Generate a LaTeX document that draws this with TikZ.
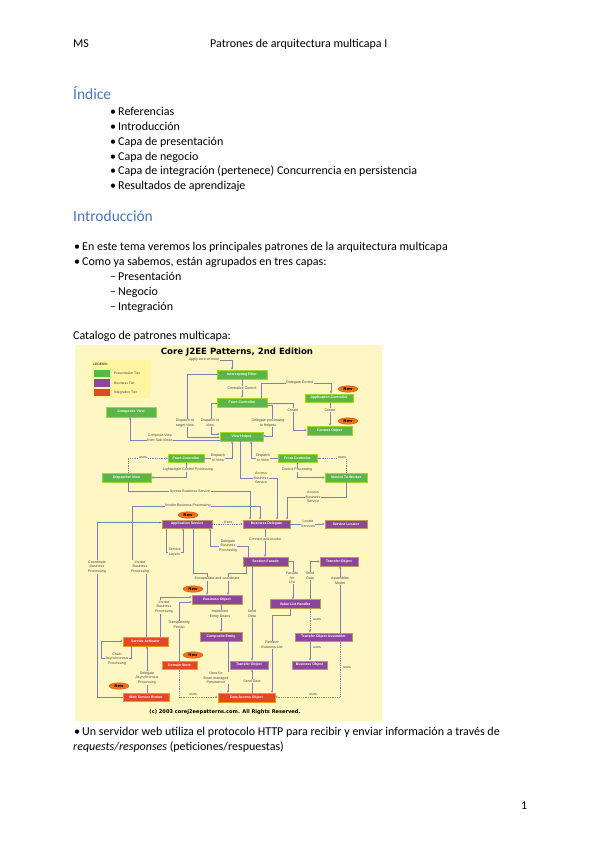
\documentclass[tikz,border=0pt]{standalone}
\usepackage{fontspec}
\setmainfont{Carlito}
\newfontfamily\dsans{Liberation Sans}
\newfontfamily\dheavy{DejaVu Sans}
\usetikzlibrary{arrows.meta,shapes.geometric}
\definecolor{headblue}{RGB}{72,118,196}
\definecolor{imgbg}{RGB}{254,247,196}
\definecolor{legbg}{RGB}{255,244,160}
\definecolor{pgreen}{RGB}{90,182,70}
\definecolor{ppurple}{RGB}{140,70,156}
\definecolor{pred}{RGB}{226,72,40}
\definecolor{lncol}{RGB}{122,130,190}
\definecolor{lbltxt}{RGB}{70,70,70}
\definecolor{neworange}{RGB}{246,112,20}
\begin{document}
\begin{tikzpicture}[x=1pt,y=-1pt,
  doc/.style={anchor=base west, inner sep=0pt, font=\fontsize{12}{14}\selectfont},
  h1/.style={anchor=base west, inner sep=0pt, text=headblue, font=\fontsize{15.5}{17}\selectfont},
  tbox/.style={minimum height=9pt, inner sep=0pt, text=white, font=\dsans\bfseries\fontsize{3.5}{4}\selectfont, line width=0.5pt},
  gbox/.style={tbox, fill=pgreen, draw=pgreen!55!yellow},
  pbox/.style={tbox, fill=ppurple, draw=ppurple!55!yellow},
  rbox/.style={tbox, fill=pred, draw=pred!55!yellow},
  lbl/.style={font=\dsans\fontsize{3.6}{4.7}\selectfont, text=lbltxt, fill=imgbg, inner sep=0.4pt, align=center},
  conn/.style={draw=lncol, line width=0.7pt, -{Stealth[length=2.4pt,width=2.2pt]}},
  dconn/.style={conn, dash pattern=on 0.9pt off 0.9pt},
  newb/.style={ellipse, fill=neworange, draw=neworange!75!black, line width=0.3pt, minimum width=20pt, minimum height=6.5pt, inner sep=0pt, font=\dheavy\bfseries\fontsize{3.8}{4}\selectfont, text=black}
]
\useasboundingbox (0,0) rectangle (599,848);
\fill[white] (0,0) rectangle (599,848);

% ---------- document text ----------
\node[doc] (ms) at (73,48) {MS};
\node[doc] (hdr) at (210,48) {Patrones de arquitectura multicapa I};
\node[h1] (indice) at (73,100) {Índice};
\node[doc] (i1) at (110,116) {\makebox[8pt][l]{•}Referencias};
\node[doc] (i2) at (110,130.7) {\makebox[8pt][l]{•}Introducción};
\node[doc] (i3) at (110,145.4) {\makebox[8pt][l]{•}Capa de presentación};
\node[doc] (i4) at (110,160.1) {\makebox[8pt][l]{•}Capa de negocio};
\node[doc] (i5) at (110,174.8) {\makebox[8pt][l]{•}Capa de integración (pertenece) Concurrencia en persistencia};
\node[doc] (i6) at (110,189.5) {\makebox[8pt][l]{•}Resultados de aprendizaje};
\node[h1] (intro) at (73,221) {Introducción};
\node[doc] (p1) at (74,250) {\makebox[8pt][l]{•}En este tema veremos los principales patrones de la arquitectura multicapa};
\node[doc] (p2) at (74,265) {\makebox[8pt][l]{•}Como ya sabemos, están agrupados en tres capas:};
\node[doc] (d1) at (110,280) {\makebox[8pt][l]{–}Presentación};
\node[doc] (d2) at (110,295) {\makebox[8pt][l]{–}Negocio};
\node[doc] (d3) at (110,310) {\makebox[8pt][l]{–}Integración};
\node[doc] (cat) at (73,339) {Catalogo de patrones multicapa:};
\node[doc] (p3) at (74,735) {\makebox[8pt][l]{•}Un servidor web utiliza el protocolo HTTP para recibir y enviar información a través de};
\node[doc] (p4) at (73,750) {\textit{requests/responses} (peticiones/respuestas)};
\node[doc] (pg) at (521,809) {1};

% ---------- diagram background ----------
\fill[imgbg] (75,345) rectangle (382,721);
\node[inner sep=0pt, font=\dheavy\bfseries\fontsize{8.6}{10}\selectfont] (title) at (237,352.5) {Core J2EE Patterns, 2nd Edition};
\node[inner sep=0pt, font=\dheavy\bfseries\fontsize{5.1}{6}\selectfont] (copy) at (225,712) {(c) 2003 corej2eepatterns.com. All Rights Reserved.};

% legend
\fill[legbg] (91,360) rectangle (150,398);
\node[anchor=west, inner sep=0pt, font=\dsans\bfseries\fontsize{3.3}{4}\selectfont, text=lbltxt] (leg) at (93,364) {LEGEND:};
\fill[pgreen] (94,369.5) rectangle (110,377);
\fill[ppurple] (94,379) rectangle (110,386.5);
\fill[pred] (94,388.5) rectangle (110,396);
\node[anchor=west, inner sep=0pt, font=\dsans\fontsize{3.4}{4}\selectfont, text=lbltxt] (lg1) at (114,373.3) {Presentation Tier};
\node[anchor=west, inner sep=0pt, font=\dsans\fontsize{3.4}{4}\selectfont, text=lbltxt] (lg2) at (114,382.8) {Business Tier};
\node[anchor=west, inner sep=0pt, font=\dsans\fontsize{3.4}{4}\selectfont, text=lbltxt] (lg3) at (114,392.3) {Integration Tier};

% ---------- boxes ----------
\node[gbox, minimum width=50pt] (if) at (242,374.5) {Intercepting Filter};
\node[gbox, minimum width=50pt] (fc) at (242,402.5) {Front Controller};
\node[gbox, minimum width=48pt, minimum height=8.5pt] (ac) at (329,398) {Application Controller};
\node[gbox, minimum width=45pt] (co) at (329.5,430.5) {Context Object};
\node[gbox, minimum width=50pt, minimum height=10pt] (cv) at (131,412) {Composite View};
\node[gbox, minimum width=43pt] (vh) at (241.5,436.5) {View Helper};
\node[gbox, minimum width=36pt, minimum height=8pt] (fc2) at (186,458.5) {Front Controller};
\node[gbox, minimum width=49pt] (dv) at (126.5,477.5) {Dispatcher View};
\node[gbox, minimum width=39pt, minimum height=8pt] (fc3) at (297.5,458.5) {Front Controller};
\node[gbox, minimum width=42pt] (stw) at (346,477.5) {Service To Worker};
\node[pbox, minimum width=50pt, minimum height=8.5pt] (as) at (187,524) {Application Service};
\node[pbox, minimum width=47pt, minimum height=8.5pt] (bd) at (266.5,524) {Business Delegate};
\node[pbox, minimum width=42pt, minimum height=8.5pt] (sl) at (346,524) {Service Locator};
\node[pbox, minimum width=45pt] (sf) at (265.5,561.5) {Session Facade};
\node[pbox, minimum width=38pt] (to1) at (339,561.5) {Transfer Object};
\node[pbox, minimum width=50pt] (bo) at (217,599.5) {Business Object};
\node[pbox, minimum width=50pt] (vlh) at (295,604) {Value List Handler};
\node[pbox, minimum width=42pt] (ce) at (221,636.5) {Composite Entity};
\node[pbox, minimum width=57pt, minimum height=8.5pt] (toa) at (323.5,637) {Transfer Object Assembler};
\node[rbox, minimum width=45pt] (sa) at (145.5,641.5) {Service Activator};
\node[rbox, minimum width=35pt, minimum height=8.5pt] (ds) at (179.5,665) {Domain Store};
\node[pbox, minimum width=38pt, minimum height=8.5pt] (to2) at (249,665) {Transfer Object};
\node[pbox, minimum width=35pt, minimum height=8.5pt] (bo2) at (309.5,665) {Business Object};
\node[rbox, minimum width=46pt, minimum height=8.5pt] (wsb) at (146,697) {Web Service Broker};
\node[rbox, minimum width=57pt] (dao) at (246.5,697.5) {Data Access Object};

% ---------- connectors ----------
\node[lbl] (apply) at (204,360) {Apply zero or more};
\draw[conn] (apply.east) -| (if.north -| 232,0);
\draw[conn] (if.south) -- (fc.north);
\draw[conn] (fc.north -| 261,0) -- (261,383) -| (ac.north -| 331,0);
\draw[conn] (ac.south -| 330,0) -- (co.north -| 330,0);
\draw[conn] (fc.east |- 0,403) -| (293,430) -- (co.west |- 0,430);
\draw[conn] (fc.east |- 0,405) -- (272,405) |- (vh.east |- 0,436);
\draw[conn] (if.west) -- (187,374.5) |- (vh.west |- 0,437.5);
\draw[conn] (fc.west |- 0,403) -- (211,403) |- (vh.west |- 0,434);
\draw[conn] (vh.west |- 0,440) -| (cv.south -| 130,0);
\draw[dconn] (dv.north -| 128,0) |- (fc2.west);
\draw[conn] (fc2.south) |- (dv.east);
\draw[conn] (fc2.east) -| (vh.south -| 232,0);
\draw[conn] (fc3.west) -| (vh.south -| 251,0);
\draw[dconn] (stw.north) |- (fc3.east);
\draw[conn] (fc3.south) |- (stw.west);
\draw[conn] (dv.south -| 128,0) |- (250,491) -- (bd.north -| 250,0);
\draw[conn] (vh.south -| 240,0) |- (277,478) -- (bd.north -| 277,0);
\draw[conn] (stw.south) |- (287,497) -- (bd.north -| 287,0);
\draw[conn] (sa.north -| 146,0) -- (146,568) -- (132,568) -- (132,506) -| (bd.north -| 260,0);
\draw[conn] (wsb.west) -- (97,697) |- (as.west |- 0,522.5);
\draw[dconn] (as.east) -- (bd.west);
\draw[conn] (bd.east) -- (sl.west);
\draw[conn] (bd.south -| 265,0) -- (sf.north -| 265,0);
\draw[conn] (as.south -| 166,0) -- (166,552) -| (as.south -| 183,0);
\draw[conn] (sf.north -| 248,0) |- (210,546) -- (as.south -| 210,0);
\draw[conn] (as.south -| 193,0) -- (193,573) -| (bo.north -| 207,0);
\draw[conn] (sf.south -| 246,0) -- (246,573) -| (bo.north -| 228,0);
\draw[conn] (sf.south -| 252,0) -- (to2.north -| 252,0);
\draw[conn] (sf.east) -| (vlh.north -| 293,0);
\draw[conn] (vlh.north -| 310,0) |- (to1.west);
\draw[conn] (toa.north -| 340,0) -- (to1.south -| 340,0);
\draw[conn] (bo.south -| 221,0) -- (ce.north -| 221,0);
\draw[conn] (sa.north -| 160,0) |- (bo.west |- 0,597);
\draw[conn] (ds.north) |- (bo.west |- 0,602);
\draw[conn] (ce.south -| 228,0) -- (dao.north -| 228,0);
\draw[conn] (dao.north -| 252,0) -- (to2.south -| 252,0);
\draw[conn] (vlh.south -| 290,0) -- (290,615) -| (dao.north -| 272,0);
\draw[dconn] (vlh.south -| 310,0) -- (toa.north -| 310,0);
\draw[conn] (toa.south -| 310,0) -- (bo2.north -| 310,0);
\draw[dconn] (toa.south -| 340,0) |- (dao.east |- 0,697);
\draw[dconn] (ds.south) |- (dao.west |- 0,697);
\draw[conn] (wsb.north -| 147,0) -- (sa.south -| 147,0);
\draw[conn] (sa.south -| 131,0) -- (131,658) -| (101,641) -- (sa.west |- 0,641);

% ---------- labels ----------
\node[lbl] (l1) at (242,388) {Centralize Control};
\node[lbl] (l2) at (300,383) {Delegate Control};
\node[lbl] (l3) at (330,410) {Create};
\node[lbl] (l4) at (293,410) {Create};
\node[lbl] (l5) at (268,423) {Delegate processing\\to Helpers};
\node[lbl] (l6) at (185,423) {Dispatch to\\target View};
\node[lbl] (l7) at (210,423) {Dispatch to\\View};
\node[lbl] (l8) at (160,438) {Compose View\\from Sub-Views};
\node[lbl] (l9) at (143,457.5) {uses};
\node[lbl] (l10) at (188,470) {Lightweight Control Processing};
\node[lbl] (l11) at (218,457.5) {Dispatch\\to View};
\node[lbl] (l12) at (263,457.5) {Dispatch\\to View};
\node[lbl] (l13) at (342,457.5) {uses};
\node[lbl] (l14) at (297,470) {Control Processing};
\node[lbl] (l15) at (261,478) {Access\\Business\\Service};
\node[lbl] (l16) at (190,491) {Access Business Service};
\node[lbl] (l17) at (313,497) {Access\\Business\\Service};
\node[lbl] (l18) at (188,506) {Invoke Business Processing};
\node[lbl] (l19) at (228,522.5) {Uses};
\node[lbl] (l20) at (308,524) {Locate\\Services};
\node[lbl] (l21) at (265,539) {Connect and Invoke};
\node[lbl] (l22) at (228,546) {Delegate\\Business\\Processing};
\node[lbl] (l23) at (174.5,552) {Service\\Layers};
\node[lbl] (l24) at (97,567) {Coordinate\\Business\\Processing};
\node[lbl] (l25) at (140,567) {Invoke\\Business\\Processing};
\node[lbl] (l26) at (217,579) {Encapsulate and coordinate};
\node[lbl] (l27) at (292,578) {Facade\\for\\List};
\node[lbl] (l28) at (310,576) {Send\\Data};
\node[lbl] (l29) at (340,581) {Assembles\\Model};
\node[lbl] (l30) at (164,607) {Invoke\\Business\\Processing};
\node[lbl] (l31) at (220,614) {Implement\\Entity Beans};
\node[lbl] (l32) at (252,614) {Send\\Data};
\node[lbl, fill=none] (l33) at (317,620) {uses};
\node[lbl] (l34) at (179,625) {Transparently\\Persist};
\node[lbl] (l35) at (272,645) {Retrieve\\Business List};
\node[lbl, fill=none] (l36) at (317,648) {uses};
\node[lbl] (l37) at (117,659) {Chain\\Asynchronous\\Processing};
\node[lbl, fill=none] (l38) at (347,668) {uses};
\node[lbl] (l39) at (147,678) {Delegate\\Asynchronous\\Processing};
\node[lbl] (l40) at (216,678) {Uses for\\Bean-managed\\Persistence};
\node[lbl] (l41) at (252,681) {Send Data};
\node[lbl, fill=none] (l42) at (193,694.5) {uses};
\node[lbl, fill=none] (l43) at (313,694.5) {uses};

% ---------- New badges ----------
\node[newb] (n1) at (348,389) {New};
\node[newb] (n2) at (348,421) {New};
\node[newb] (n3) at (188,515) {New};
\node[newb] (n4) at (193,589) {New};
\node[newb] (n5) at (193,655) {New};
\node[newb] (n6) at (119,686) {New};
\end{tikzpicture}
\end{document}
